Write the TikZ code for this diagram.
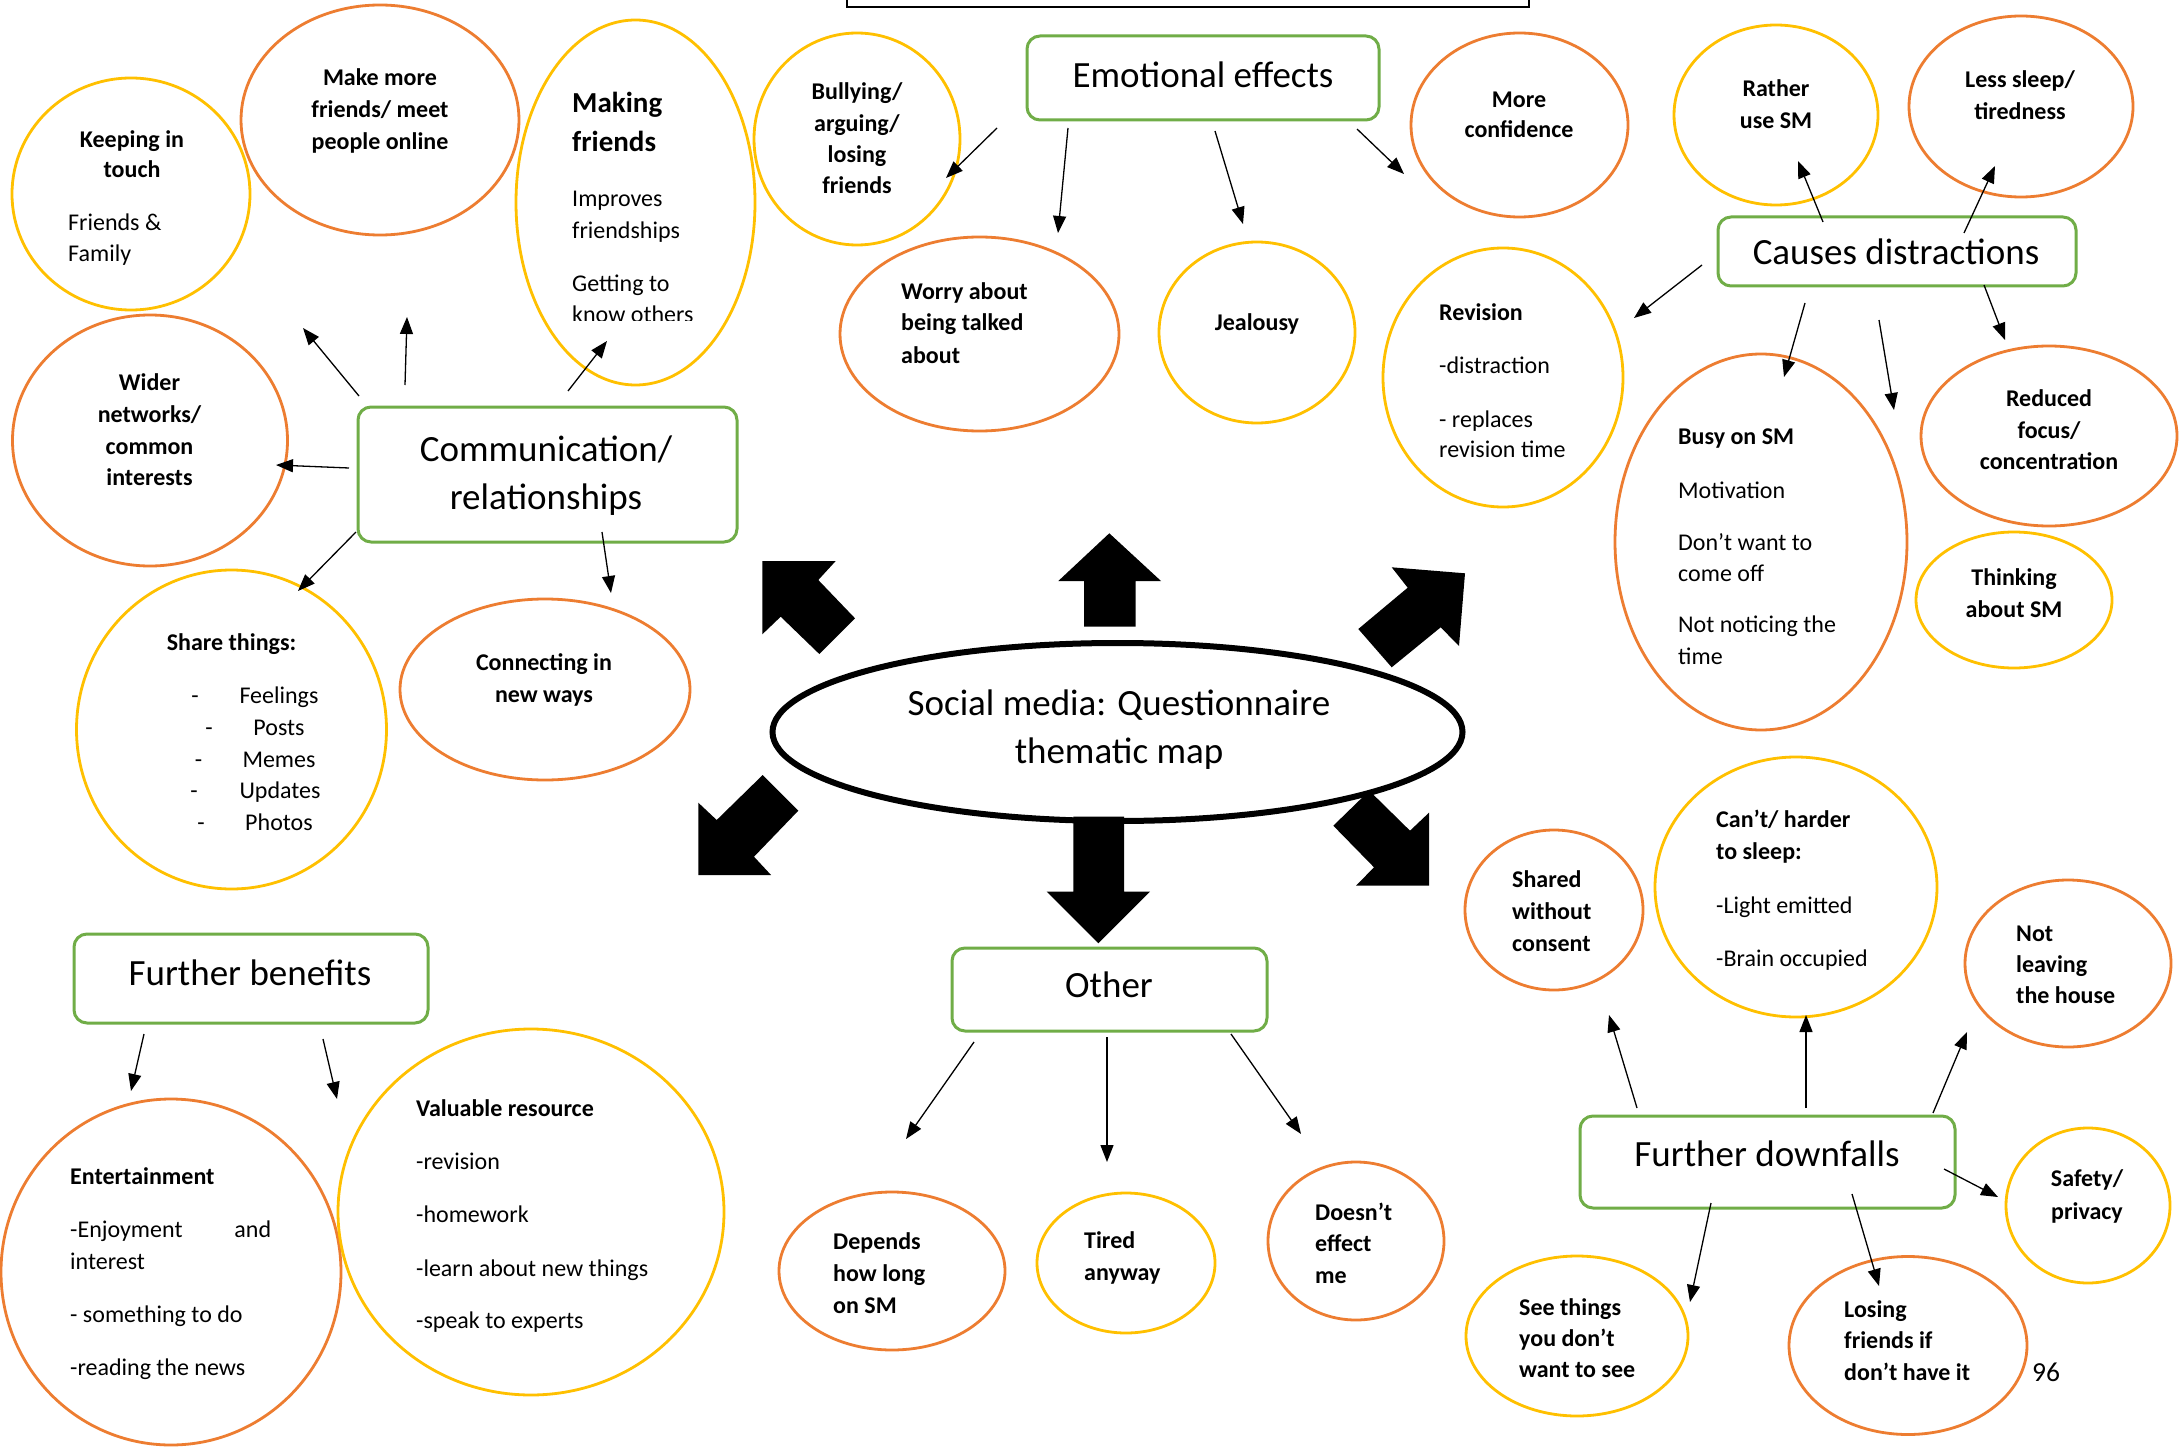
\documentclass[tikz,border=0pt]{standalone}
\usepackage{fontspec}
\setmainfont{Carlito}
\usetikzlibrary{shapes.geometric,arrows.meta}
\definecolor{orn}{HTML}{ED7D31}
\definecolor{yel}{HTML}{FFC000}
\definecolor{grn}{HTML}{70AD47}
\begin{document}
\begin{tikzpicture}[x=1pt,y=-1pt,
  ov/.style={ellipse, line width=2.8pt, inner sep=0pt},
  oo/.style={ov, draw=orn},
  yo/.style={ov, draw=yel},
  gbox/.style={rectangle, rounded corners=13pt, draw=grn, line width=3pt, inner sep=0pt},
  ttl/.style={font=\fontsize{37}{48}\selectfont, inner sep=0pt, anchor=mid, yshift=-8.5pt},
  bc/.style={font=\fontsize{24}{31}\selectfont\bfseries, inner sep=0pt, anchor=mid, yshift=-5.5pt},
  bl/.style={font=\fontsize{24}{31}\selectfont\bfseries, inner sep=0pt, anchor=mid west, yshift=-5.5pt},
  rl/.style={font=\fontsize{24}{31}\selectfont, inner sep=0pt, anchor=mid west, yshift=-5.5pt},
  rc/.style={font=\fontsize{24}{31}\selectfont, inner sep=0pt, anchor=mid, yshift=-5.5pt},
  arr/.style={line width=1.3pt, -{Triangle[length=17pt,width=13pt]}}
]
\useasboundingbox (0,0) rectangle (2179,1447);
\fill[white] (0,0) rectangle (2179,1447);

% partial frame at the top
\draw[line width=2.5pt] (847,-10) -- (847,7) -- (1529,7) -- (1529,-10);

% central ellipse
\node[ellipse, draw, line width=6pt, minimum width=690, minimum height=178, inner sep=0pt] (sm) at (1117.5,732) {};
\node[ttl] (smT1) at (1119,705) {Social media: Questionnaire};
\node[ttl] (smT2) at (1119,753) {thematic map};

% block arrows
\fill (1109.3,533.3) -- (1161,581) -- (1135.7,581) -- (1135.7,626.7) -- (1084,626.7) -- (1084,581) -- (1058.3,581) -- cycle;
\fill (1073.3,816.7) -- (1124,816.7) -- (1124,891.7) -- (1150,891.7) -- (1098.3,943.3) -- (1046.7,891.7) -- (1073.3,891.7) -- cycle;
\fill (762.3,561) -- (835.7,561) -- (818.3,580) -- (855,618.3) -- (819.3,654) -- (780.7,616.7) -- (762.3,634.3) -- cycle;
\fill (1391.7,567.3) -- (1465,573.3) -- (1459,646) -- (1440.7,627.3) -- (1391.7,667.3) -- (1358.3,629) -- (1407.7,587.7) -- cycle;
\fill (762.7,775) -- (798.3,810.7) -- (754,856.7) -- (771,875) -- (698.3,875) -- (698.3,802.7) -- (716.7,820) -- cycle;
\fill (1369.3,790.7) -- (1410,830.7) -- (1429,812.7) -- (1429,885.7) -- (1356,885.7) -- (1374,867.3) -- (1333.3,825.7) -- cycle;

% green boxes
\node[gbox, minimum width=352, minimum height=84] (emo) at (1203,78) {};
\node[gbox, minimum width=379, minimum height=135] (comm) at (547.5,474.5) {};
\node[gbox, minimum width=358, minimum height=69] (caus) at (1897,251.5) {};
\node[gbox, minimum width=354, minimum height=89] (fben) at (251,978.5) {};
\node[gbox, minimum width=315, minimum height=83] (oth) at (1109.5,989.5) {};
\node[gbox, minimum width=375, minimum height=92] (fdown) at (1767.5,1162) {};
\node[ttl] (emoT) at (1203,76.5) {Emotional effects};
\node[ttl] (commT1) at (546,451) {Communication/};
\node[ttl] (commT2) at (546,499) {relationships};
\node[ttl] (causT) at (1896,254) {Causes distractions};
\node[ttl] (fbenT) at (250,975) {Further benefits};
\node[ttl] (othT) at (1109,987) {Other};
\node[ttl] (fdownT) at (1767,1156) {Further downfalls};

% ellipses
\node[yo, minimum width=238, minimum height=232] (keep) at (131,194) {};
\node[oo, minimum width=278, minimum height=230] (make) at (380,120) {};
\node[yo, minimum width=239, minimum height=365] (mkf) at (635.5,202.5) {};
\node[yo, minimum width=206, minimum height=212] (bully) at (857,139) {};
\node[oo, minimum width=279, minimum height=194] (worry) at (979.5,334) {};
\node[yo, minimum width=196, minimum height=181] (jeal) at (1257,332.5) {};
\node[oo, minimum width=217, minimum height=184] (conf) at (1519.5,125) {};
\node[yo, minimum width=240, minimum height=259] (revis) at (1503,377.5) {};
\node[yo, minimum width=204, minimum height=180] (rather) at (1776,115) {};
\node[oo, minimum width=224, minimum height=181] (lsleep) at (2021,106.5) {};
\node[oo, minimum width=292, minimum height=376] (busy) at (1761,542) {};
\node[oo, minimum width=256, minimum height=180] (reduc) at (2049,436) {};
\node[yo, minimum width=196, minimum height=136] (think) at (2014,600) {};
\node[oo, minimum width=275, minimum height=251] (wider) at (150,440.5) {};
\node[yo, minimum width=310, minimum height=319] (share) at (231.5,729.5) {};
\node[oo, minimum width=290, minimum height=181] (conn) at (545,689.5) {};
\node[oo, minimum width=340, minimum height=346] (ent) at (171,1272) {};
\node[yo, minimum width=386, minimum height=366] (valu) at (531,1212) {};
\node[oo, minimum width=226, minimum height=158] (dep) at (892,1271) {};
\node[yo, minimum width=178, minimum height=140] (tired) at (1126,1263) {};
\node[oo, minimum width=176, minimum height=158] (doesnt) at (1356,1241) {};
\node[oo, minimum width=178, minimum height=160] (shared) at (1554,910) {};
\node[yo, minimum width=282, minimum height=260] (cant) at (1796,887) {};
\node[oo, minimum width=206, minimum height=167] (notl) at (2068,963.5) {};
\node[yo, minimum width=164, minimum height=155] (safe) at (2088,1205.5) {};
\node[yo, minimum width=222, minimum height=160] (see) at (1577,1336) {};
\node[oo, minimum width=238, minimum height=178] (lose) at (1908,1345.5) {};

% texts
\node[bc] (kp1) at (132,140) {Keeping in};
\node[bc] (kp2) at (132,170) {touch};
\node[rl] (kp3) at (68,223) {Friends \&};
\node[rl] (kp4) at (68,254) {Family};

\node[bc] (mk1) at (380,78) {Make more};
\node[bc] (mk2) at (380,110) {friends/ meet};
\node[bc] (mk3) at (380,142) {people online};

\begin{scope}
\clip (560,0) rectangle (760,320);
\node[bl, font=\fontsize{29}{36}\selectfont\bfseries, yshift=-1.5pt] (mf1) at (572,103) {Making};
\node[bl, font=\fontsize{29}{36}\selectfont\bfseries, yshift=-1.5pt] (mf2) at (572,142) {friends};
\node[rl] (mf3) at (572,199) {Improves};
\node[rl] (mf4) at (572,231) {friendships};
\node[rl] (mf5) at (572,284) {Getting to};
\node[rl] (mf6) at (572,315) {know others};
\end{scope}

\node[bc] (bu1) at (857,92) {Bullying/};
\node[bc] (bu2) at (857,124) {arguing/};
\node[bc] (bu3) at (857,155) {losing};
\node[bc] (bu4) at (857,186) {friends};

\node[bl] (wo1) at (901,292) {Worry about};
\node[bl] (wo2) at (901,323) {being talked};
\node[bl] (wo3) at (901,356) {about};

\node[bc] (je1) at (1257,323) {Jealousy};

\node[bc] (co1) at (1519,99.5) {More};
\node[bc] (co2) at (1519,130) {confidence};

\node[bl] (re1) at (1439,313) {Revision};
\node[rl] (re2) at (1439,366) {-distraction};
\node[rl] (re3) at (1439,420) {- replaces};
\node[rl] (re4) at (1439,450) {revision time};

\node[bc] (ra1) at (1776,89) {Rather};
\node[bc] (ra2) at (1776,120.5) {use SM};

\node[bc] (ls1) at (2020,80) {Less sleep/};
\node[bc] (ls2) at (2020,112) {tiredness};

\node[bl] (bs1) at (1678,437) {Busy on SM};
\node[rl] (bs2) at (1678,491) {Motivation};
\node[rl] (bs3) at (1678,543) {Don’t want to};
\node[rl] (bs4) at (1678,574) {come off};
\node[rl] (bs5) at (1678,625) {Not noticing the};
\node[rl] (bs6) at (1678,657) {time};

\node[bc] (rd1) at (2049,399) {Reduced};
\node[bc] (rd2) at (2049,431) {focus/};
\node[bc] (rd3) at (2049,462) {concentration};

\node[bc] (th1) at (2014,578) {Thinking};
\node[bc] (th2) at (2014,610) {about SM};

\node[bc] (wi1) at (149.5,383) {Wider};
\node[bc] (wi2) at (149.5,415) {networks/};
\node[bc] (wi3) at (149.5,447) {common};
\node[bc] (wi4) at (149.5,478) {interests};

\node[bc] (sh0) at (231.5,643) {Share things:};
\node[rc] (shd1) at (195,696) {-};
\node[rc] (shd2) at (209,728) {-};
\node[rc] (shd3) at (198.5,760) {-};
\node[rc] (shd4) at (194,791) {-};
\node[rc] (shd5) at (201,823) {-};
\node[rc] (sh1) at (279,696) {Feelings};
\node[rc] (sh2) at (279,728) {Posts};
\node[rc] (sh3) at (279,760) {Memes};
\node[rc] (sh4) at (280,791) {Updates};
\node[rc] (sh5) at (279,823) {Photos};

\node[bc] (cn1) at (544,663) {Connecting in};
\node[bc] (cn2) at (544,695) {new ways};

\node[bl] (en1) at (70,1177) {Entertainment};
\node[rl] (en2) at (70,1230) {\makebox[201pt][l]{-Enjoyment\hfill and}};
\node[rl] (en3) at (70,1262) {interest};
\node[rl] (en4) at (70,1314.5) {- something to do};
\node[rl] (en5) at (70,1367.5) {-reading the news};

\node[bl] (va1) at (416,1109) {Valuable resource};
\node[rl] (va2) at (416,1162) {-revision};
\node[rl] (va3) at (416,1215) {-homework};
\node[rl] (va4) at (416,1269) {-learn about new things};
\node[rl] (va5) at (416,1321) {-speak to experts};

\node[bl] (dp1) at (833,1242) {Depends};
\node[bl] (dp2) at (833,1274) {how long};
\node[bl] (dp3) at (833,1305.5) {on SM};

\node[bl] (ti1) at (1084,1240.5) {Tired};
\node[bl] (ti2) at (1084,1273) {anyway};

\node[bl] (de1) at (1315,1213) {Doesn’t};
\node[bl] (de2) at (1315,1244) {effect};
\node[bl] (de3) at (1315,1276) {me};

\node[bl] (sd1) at (1512,880) {Shared};
\node[bl] (sd2) at (1512,912) {without};
\node[bl] (sd3) at (1512,944) {consent};

\node[bl] (ca1) at (1716,820) {Can’t/ harder};
\node[bl] (ca2) at (1716,852) {to sleep:};
\node[rl] (ca3) at (1716,906) {-Light emitted};
\node[rl] (ca4) at (1716,959) {-Brain occupied};

\node[bl] (nl1) at (2016,934) {Not};
\node[bl] (nl2) at (2016,964.5) {leaving};
\node[bl] (nl3) at (2016,996) {the house};

\node[bc] (sf1) at (2087,1179) {Safety/};
\node[bc] (sf2) at (2087,1211.5) {privacy};

\node[bl] (se1) at (1519,1307.5) {See things};
\node[bl] (se2) at (1519,1338.6) {you don’t};
\node[bl] (se3) at (1519,1370) {want to see};

\node[bl] (lo1) at (1844,1310) {Losing};
\node[bl] (lo2) at (1844,1341) {friends if};
\node[bl] (lo3) at (1844,1373) {don’t have it};

\node[rc, font=\fontsize{27.5}{33}\selectfont, yshift=1pt] (pg) at (2046,1375) {96};

% connector end points
\coordinate (a1s) at (359,396);  \coordinate (a1e) at (303,328);
\coordinate (a2s) at (405,385);  \coordinate (a2e) at (407,317);
\coordinate (a3s) at (568,391);  \coordinate (a3e) at (607,341);
\coordinate (a4s) at (349,468);  \coordinate (a4e) at (276,465);
\coordinate (a5s) at (356,532);  \coordinate (a5e) at (298,591);
\coordinate (a6s) at (602,532);  \coordinate (a6e) at (611,593);
\coordinate (e1s) at (997,128);  \coordinate (e1e) at (946,178);
\coordinate (e2s) at (1068,128); \coordinate (e2e) at (1058,233);
\coordinate (e3s) at (1215,131); \coordinate (e3e) at (1243,224);
\coordinate (e4s) at (1357,129); \coordinate (e4e) at (1404,174);
\coordinate (c1s) at (1702,265); \coordinate (c1e) at (1634,318);
\coordinate (c2s) at (1823,222); \coordinate (c2e) at (1798,161);
\coordinate (c3s) at (1964,233); \coordinate (c3e) at (1995,166);
\coordinate (c4s) at (1805,303); \coordinate (c4e) at (1784,377);
\coordinate (c5s) at (1879,320); \coordinate (c5e) at (1894,410);
\coordinate (c6s) at (1984,285); \coordinate (c6e) at (2005,340);
\coordinate (b1s) at (144,1034); \coordinate (b1e) at (131,1091);
\coordinate (b2s) at (323,1039); \coordinate (b2e) at (337,1099);
\coordinate (o1s) at (974,1042); \coordinate (o1e) at (906,1139);
\coordinate (o2s) at (1107,1037);\coordinate (o2e) at (1107,1162);
\coordinate (o3s) at (1231,1034);\coordinate (o3e) at (1301,1134);
\coordinate (f1s) at (1637,1108);\coordinate (f1e) at (1609,1015);
\coordinate (f2s) at (1806,1108);\coordinate (f2e) at (1806,1015);
\coordinate (f3s) at (1933,1113);\coordinate (f3e) at (1967,1032);
\coordinate (f4s) at (1944,1169);\coordinate (f4e) at (1998,1197);
\coordinate (f5s) at (1711,1203);\coordinate (f5e) at (1690,1302);
\coordinate (f6s) at (1852,1194);\coordinate (f6e) at (1879,1286);

\foreach \c in {a1,a2,a3,a4,a5,a6,e1,e2,e3,e4,c1,c2,c3,c4,c5,c6,b1,b2,o1,o2,o3,f1,f2,f3,f4,f5,f6}
  \draw[arr] (\c s) -- (\c e);
\end{tikzpicture}
\end{document}
